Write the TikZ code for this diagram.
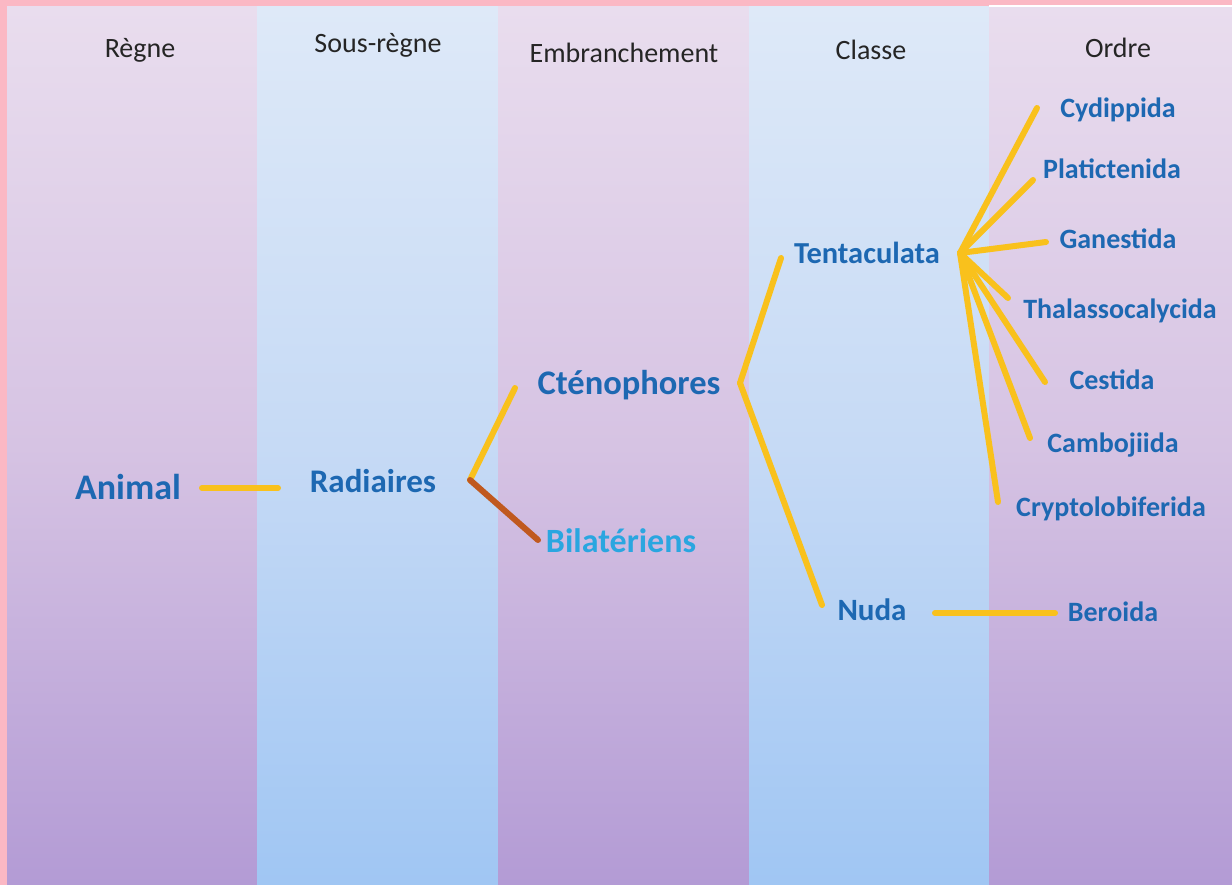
\documentclass[tikz,border=0pt]{standalone}
\usepackage{fontspec}
\setmainfont{Carlito}
\definecolor{pinkbg}{HTML}{FBB8C4}
\definecolor{purtop}{HTML}{E9DDEE}
\definecolor{purmid}{HTML}{D6C3E3}
\definecolor{purbot}{HTML}{B39BD5}
\definecolor{blutop}{HTML}{DEE9F8}
\definecolor{blumid}{HTML}{C6DAF5}
\definecolor{blubot}{HTML}{A0C6F3}
\definecolor{hdrgray}{HTML}{252525}
\definecolor{labblue}{HTML}{1D68B2}
\definecolor{lightblue}{HTML}{2AA6E0}
\definecolor{linkyellow}{HTML}{F9C11C}
\definecolor{linkbrown}{HTML}{C0591F}
\begin{document}
\begin{tikzpicture}[x=1pt,y=-1pt,
  hdr/.style={anchor=base, text=hdrgray, font=\fontsize{28}{30}\selectfont, inner sep=0pt},
  lab/.style={anchor=base, text=labblue, font=\bfseries\fontsize{28}{30}\selectfont, inner sep=0pt},
  link/.style={draw=linkyellow, line width=6pt, line cap=round},
  purcol/.style={top color=purtop, bottom color=purbot, middle color=purmid, draw=none},
  blucol/.style={top color=blutop, bottom color=blubot, middle color=blumid, draw=none}
]
\useasboundingbox (0,0) rectangle (1232,885);
\fill[pinkbg] (0,0) rectangle (1232,885);
% columns
\shade[purcol] (7,7) rectangle (257,885);
\shade[blucol] (257,7) rectangle (498,885);
\shade[purcol] (498,7) rectangle (749,885);
\shade[blucol] (749,7) rectangle (989,885);
\shade[purcol] (989,7) rectangle (1232,885);
\fill[white] (989,5.5) rectangle (1232,7);
% headers
\node[hdr] (h1) at (140,58) {Règne};
\node[hdr] (h2) at (378,53) {Sous-règne};
\node[hdr] (h3) at (624,63) {Embranchement};
\node[hdr] (h4) at (871,60) {Classe};
\node[hdr] (h5) at (1118,58) {Ordre};
% taxa
\node[lab, font=\bfseries\fontsize{36}{40}\selectfont] (animal) at (128,499) {Animal};
\node[lab, font=\bfseries\fontsize{33}{36}\selectfont] (radiaires) at (373,492) {Radiaires};
\node[lab, font=\bfseries\fontsize{34.5}{38}\selectfont] (cteno) at (629,394) {Cténophores};
\node[lab, text=lightblue, font=\bfseries\fontsize{34}{38}\selectfont] (bilat) at (621,552) {Bilatériens};
\node[lab, font=\bfseries\fontsize{30.5}{33}\selectfont] (tenta) at (867,264) {Tentaculata};
\node[lab, font=\bfseries\fontsize{31}{34}\selectfont] (nuda) at (872,620) {Nuda};
\node[lab] (cydi) at (1118,118) {Cydippida};
\node[lab] (plat) at (1112,179) {Platictenida};
\node[lab] (gane) at (1118,249) {Ganestida};
\node[lab] (thal) at (1120,319) {Thalassocalycida};
\node[lab] (cest) at (1112,389) {Cestida};
\node[lab] (camb) at (1113,452) {Cambojiida};
\node[lab] (cryp) at (1111,516) {Cryptolobiferida};
\node[lab] (bero) at (1113,621) {Beroida};
% connector end points
\coordinate (aR) at (202,488);
\coordinate (aL) at (278,488);
\coordinate (rhub) at (470,480);
\coordinate (rC) at (515,388);
\coordinate (rB) at (538,540);
\coordinate (chub) at (740,383);
\coordinate (cT) at (781,258);
\coordinate (cN) at (822,605);
\coordinate (thub) at (960,253);
\coordinate (tCy) at (1037,108);
\coordinate (tPl) at (1033,180);
\coordinate (tGa) at (1046,242);
\coordinate (tTh) at (1008,298);
\coordinate (tCe) at (1045,382);
\coordinate (tCa) at (1030,438);
\coordinate (tCr) at (998,502);
\coordinate (nB1) at (935,613);
\coordinate (nB2) at (1055,613);
% connectors
\draw[link] (aR) -- (aL);
\draw[link] (rhub) -- (rC);
\draw[draw=linkbrown, line width=6pt, line cap=round] (rhub) -- (rB);
\draw[link] (chub) -- (cT);
\draw[link] (chub) -- (cN);
\foreach \e in {tCy,tPl,tGa,tTh,tCe,tCa,tCr}{\draw[link] (thub) -- (\e);}
\draw[link] (nB1) -- (nB2);
\end{tikzpicture}
\end{document}
